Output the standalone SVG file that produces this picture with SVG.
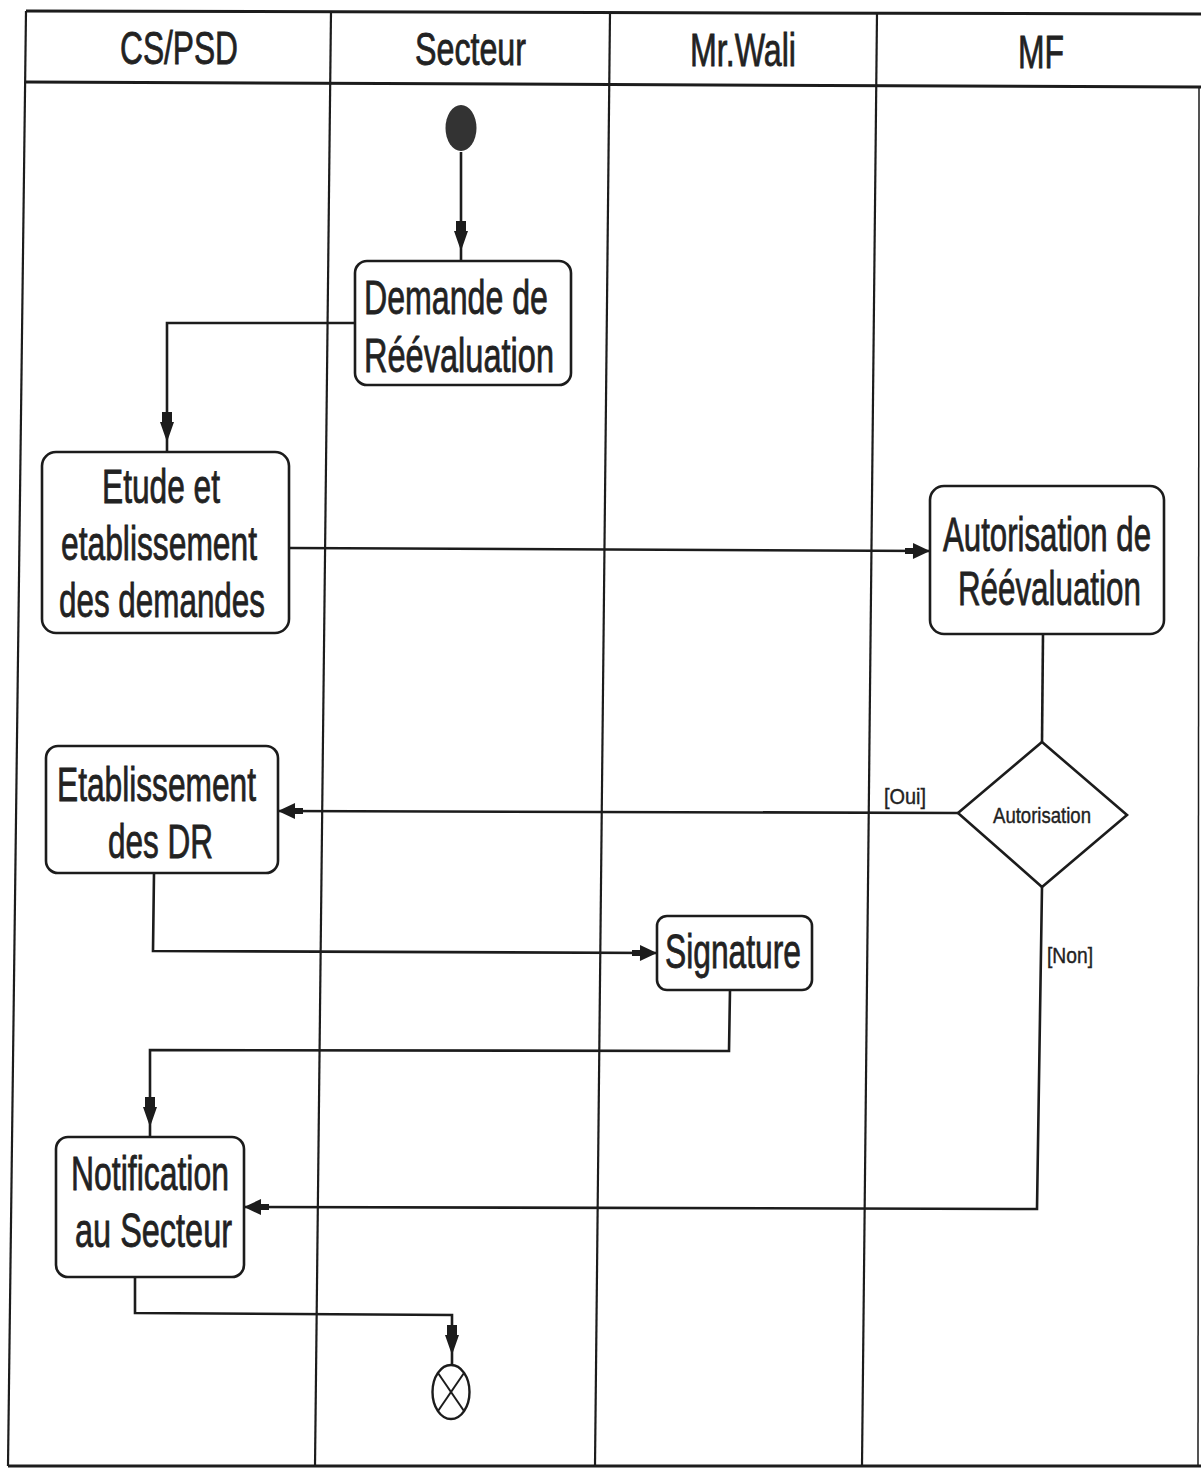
<svg xmlns="http://www.w3.org/2000/svg" width="1201" height="1468" viewBox="0 0 1201 1468">
<style>
.lane{stroke:#1c1c1c;stroke-width:2.2;fill:none}
.lanet{stroke:#1c1c1c;stroke-width:3;fill:none}
.box{fill:#fff;stroke:#1c1c1c;stroke-width:2.6}
.conn{stroke:#1c1c1c;stroke-width:2.6;fill:none}
.hd{font-family:"Liberation Sans",Arial,sans-serif;font-size:46px;fill:#222;stroke:#222;stroke-width:0.8}
.nt{font-family:"Liberation Sans",Arial,sans-serif;font-size:48px;fill:#222;stroke:#222;stroke-width:0.8}
.sm{font-family:"Liberation Sans",Arial,sans-serif;font-size:22px;fill:#222;stroke:#222;stroke-width:0.4}
</style>
<defs>
<marker id="arrH" markerUnits="userSpaceOnUse" markerWidth="30" markerHeight="20" viewBox="0 -10 30 20" refX="25" refY="0" orient="auto">
<path d="M0,-3 L8,-3 L8,-8 L25,0 L8,8 L8,3 L0,3 Z" fill="#1c1c1c"/>
</marker>
<marker id="arrV" markerUnits="userSpaceOnUse" markerWidth="44" markerHeight="20" viewBox="0 -10 44 20" refX="40" refY="0" orient="auto">
<path d="M0,-5 L10,-5 L10,-7 L30,0 L10,7 L10,5 L0,5 Z" fill="#1c1c1c"/>
</marker>
</defs>
<rect x="0" y="0" width="1201" height="1468" fill="#fff"/>
<g id="swimlanes">
<line class="lanet" x1="26" y1="11" x2="1201" y2="14"/>
<line class="lanet" x1="26" y1="82" x2="1201" y2="87"/>
<line class="lanet" x1="8" y1="1466" x2="1201" y2="1466"/>
<line class="lane" x1="26" y1="11" x2="8" y2="1466"/>
<line class="lane" x1="331" y1="11" x2="315" y2="1466"/>
<line class="lane" x1="610" y1="12" x2="595" y2="1466"/>
<line class="lane" x1="877" y1="13" x2="862" y2="1466"/>
<line class="lane" x1="1199" y1="87" x2="1198" y2="1466" style="stroke-width:1.5"/>
<text class="hd" x="120" y="64" textLength="118" lengthAdjust="spacingAndGlyphs">CS/PSD</text>
<text class="hd" x="415" y="65" textLength="111" lengthAdjust="spacingAndGlyphs">Secteur</text>
<text class="hd" x="690" y="66" textLength="106" lengthAdjust="spacingAndGlyphs">Mr.Wali</text>
<text class="hd" x="1018" y="68" textLength="46" lengthAdjust="spacingAndGlyphs">MF</text>
</g>
<g id="connectors">
<path class="conn" d="M461,152 L461,261" marker-end="url(#arrV)"/>
<path class="conn" d="M355,323 L167,323 L167,452" marker-end="url(#arrV)"/>
<path class="conn" d="M289,548 L930,551" marker-end="url(#arrH)"/>
<path class="conn" d="M1043,634 L1042,742"/>
<path class="conn" d="M958,813 L278,811" marker-end="url(#arrH)"/>
<path class="conn" d="M1042,887 L1037,1209 L244,1207" marker-end="url(#arrH)"/>
<path class="conn" d="M154,873 L153,951 L657,953" marker-end="url(#arrH)"/>
<path class="conn" d="M730,990 L729,1051 L150,1050 L150,1137" marker-end="url(#arrV)"/>
<path class="conn" d="M135,1277 L135,1313 L452,1315 L452,1365" marker-end="url(#arrV)"/>
<text class="sm" x="884" y="804" textLength="42" lengthAdjust="spacingAndGlyphs">[Oui]</text>
<text class="sm" x="1047" y="963" textLength="46" lengthAdjust="spacingAndGlyphs">[Non]</text>
</g>
<g id="start">
<ellipse cx="461" cy="128" rx="15.5" ry="23" fill="#333"/>
</g>
<g id="demande">
<rect class="box" x="355" y="261" width="216" height="124" rx="12"/>
<text class="nt" x="364" y="314" textLength="184" lengthAdjust="spacingAndGlyphs">Demande de</text>
<text class="nt" x="364" y="372" textLength="190" lengthAdjust="spacingAndGlyphs">Réévaluation</text>
</g>
<g id="etude">
<rect class="box" x="42" y="452" width="247" height="181" rx="14"/>
<text class="nt" x="102" y="503" textLength="118" lengthAdjust="spacingAndGlyphs">Etude et</text>
<text class="nt" x="61" y="560" textLength="196" lengthAdjust="spacingAndGlyphs">etablissement</text>
<text class="nt" x="59" y="617" textLength="206" lengthAdjust="spacingAndGlyphs">des demandes</text>
</g>
<g id="autorisation">
<rect class="box" x="930" y="486" width="234" height="148" rx="14"/>
<text class="nt" transform="translate(943,551) scale(0.65,1)" x="0" y="0" textLength="320" lengthAdjust="spacingAndGlyphs">Autorisation de</text>
<text class="nt" transform="translate(958,605) scale(0.653,1)" x="0" y="0" textLength="280" lengthAdjust="spacingAndGlyphs">Réévaluation</text>
</g>
<g id="decision">
<polygon class="box" points="958,813 1042,742 1127,815 1042,887"/>
<text class="sm" x="993" y="823" textLength="98" lengthAdjust="spacingAndGlyphs">Autorisation</text>
</g>
<g id="etablissement">
<rect class="box" x="46" y="746" width="232" height="127" rx="12"/>
<text class="nt" x="57" y="801" textLength="199" lengthAdjust="spacingAndGlyphs">Etablissement</text>
<text class="nt" x="108" y="858" textLength="105" lengthAdjust="spacingAndGlyphs">des DR</text>
</g>
<g id="signature">
<rect class="box" x="657" y="916" width="155" height="74" rx="10"/>
<text class="nt" x="665" y="968" textLength="136" lengthAdjust="spacingAndGlyphs">Signature</text>
</g>
<g id="notification">
<rect class="box" x="56" y="1137" width="188" height="140" rx="12"/>
<text class="nt" x="71" y="1190" textLength="158" lengthAdjust="spacingAndGlyphs">Notification</text>
<text class="nt" x="75" y="1247" textLength="157" lengthAdjust="spacingAndGlyphs">au Secteur</text>
</g>
<g id="end">
<ellipse cx="451" cy="1392" rx="18.5" ry="27" fill="#fff" stroke="#1c1c1c" stroke-width="2.4"/>
<line class="conn" x1="438" y1="1373" x2="464" y2="1411" style="stroke-width:2"/>
<line class="conn" x1="464" y1="1373" x2="438" y2="1411" style="stroke-width:2"/>
</g>
</svg>
